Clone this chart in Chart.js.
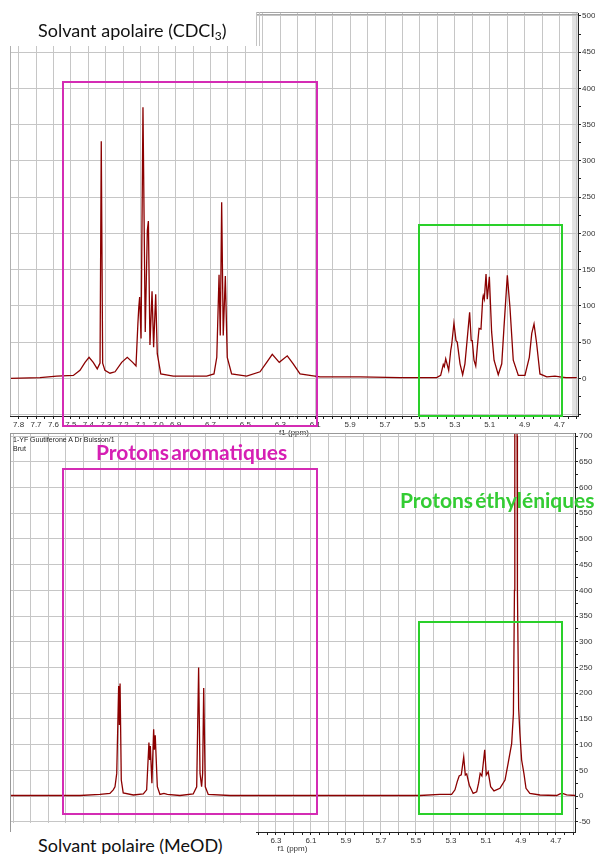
<!DOCTYPE html>
<html>
<head>
<meta charset="utf-8">
<script src="https://cdn.jsdelivr.net/npm/chart.js@4.4.1/dist/chart.umd.min.js"></script>
<style>
  html, body { margin: 0; padding: 0; background: #fff; }
  body { width: 595px; height: 854px; position: relative; overflow: hidden; font-family: Lato, "Open Sans", sans-serif; }
  canvas { position: absolute; left: 0; }
  #spectreHaut { top: 0; }
  #spectreBas { top: 425px; }
  .bloc { position: absolute; box-sizing: border-box; }
  .cache { position: absolute; background: #fff; }
  .cadre { position: absolute; box-sizing: border-box; border: 2px solid; }
  .titre { position: absolute; left: 38px; font-size: 18px; line-height: 20px; color: #111; white-space: nowrap; }
  .titre sub { font-size: 12px; vertical-align: -3px; line-height: 0; }
  .etiquette { position: absolute; font-weight: bold; font-size: 21px; line-height: 24px; white-space: nowrap; word-spacing: -3px; }
  .entete { position: absolute; left: 13px; font-family: "Liberation Sans", sans-serif; font-size: 7px; line-height: 9px; color: #222; white-space: nowrap; }
</style>
</head>
<body>
<div class="bloc" style="left:572px; top:13px; width:6px; height:403px; background:#e3e3e3;"></div>
<canvas id="spectreBas" width="595" height="429"></canvas>
<canvas id="spectreHaut" width="595" height="438"></canvas>

<div class="cache" style="left:0; top:0; width:257px; height:46px;"></div>
<div class="cache" style="left:0; top:823px; width:256px; height:31px;"></div>
<div class="bloc" style="left:257px; top:12px; width:321px; height:3px; border-top:1px solid #a8a8a8; border-bottom:1px solid #a8a8a8;"></div>
<div class="bloc" style="left:256px; top:12px; width:4px; height:34px; border-left:1px solid #c4c4c4; border-right:1px solid #c4c4c4;"></div>
<div class="bloc" style="left:10px; top:46px; width:1px; height:370px; background:#b0b0b0;"></div>
<div class="bloc" style="left:10px; top:433px; width:565px; height:399px; border-top:1px solid #999; border-left:1px solid #999;"></div>

<div class="cadre" style="left:62px; top:81px; width:256px; height:346px; border-color:#d42cb4;"></div>
<div class="cadre" style="left:418px; top:224px; width:145px; height:193px; border-color:#2ad02a;"></div>
<div class="cadre" style="left:62px; top:468px; width:256px; height:347px; border-color:#d42cb4;"></div>
<div class="cadre" style="left:418px; top:621px; width:145px; height:194px; border-color:#2ad02a;"></div>

<div class="titre" style="top:20px;">Solvant apolaire (CDCl<sub>3</sub>)</div>
<div class="titre" style="top:835px;">Solvant polaire (MeOD)</div>
<div class="entete" style="top:435px;">1-YF Guutiferone A Dr Buisson/1</div>
<div class="entete" style="top:444px;">Brut</div>
<div class="etiquette" style="left:96px; top:440px; color:#d61fb4;">Protons aromatiques</div>
<div class="etiquette" style="left:400px; top:488px; color:#33cc33;">Protons éthyléniques</div>

<script>
// CDCl3 spectrum (ppm, intensity)
const topShift = [
    7.849, 7.677, 7.581, 7.486, 7.448, 7.419, 7.396, 7.372, 7.349, 7.333,
    7.326, 7.318, 7.305, 7.276, 7.247, 7.209, 7.177, 7.146, 7.127, 7.116,
    7.111, 7.106, 7.098, 7.087, 7.074, 7.062, 7.056, 7.047, 7.035, 7.026,
    7.014, 7.005, 6.985, 6.913, 6.817, 6.722, 6.680, 6.664, 6.651, 6.644,
    6.636, 6.627, 6.615, 6.604, 6.579, 6.493, 6.416, 6.378, 6.346, 6.306,
    6.260, 6.226, 6.187, 6.073, 5.843, 5.614, 5.404, 5.381, 5.366, 5.360,
    5.352, 5.335, 5.323, 5.318, 5.305, 5.293, 5.286, 5.270, 5.255, 5.242,
    5.232, 5.215, 5.206, 5.200, 5.190, 5.180, 5.171, 5.161, 5.150, 5.140,
    5.137, 5.131, 5.121, 5.114, 5.102, 5.089, 5.075, 5.051, 5.031, 5.018,
    4.999, 4.984, 4.965, 4.936, 4.898, 4.873, 4.859, 4.846, 4.831, 4.812,
    4.773, 4.726, 4.697, 4.663, 4.601
];
const topIntensity = [
    0, 1, 3, 4, 11, 22, 29, 22, 13, 21,
    327, 21, 11, 7, 9, 22, 29, 22, 17, 76,
    98, 112, 55, 374, 64, 204, 217, 46, 120, 43,
    116, 34, 6, 3, 3, 3, 6, 29, 143, 59,
    243, 59, 141, 29, 6, 3, 9, 22, 33, 22,
    31, 20, 6, 2, 2, 1, 1, 4, 19, 16,
    27, 11, 39, 46, 76, 52, 50, 20, 5, 20,
    46, 91, 52, 52, 25, 17, 43, 69, 68, 110,
    114, 109, 144, 109, 140, 64, 25, 5, 20, 71,
    142, 98, 25, 4, 4, 29, 62, 75, 48, 6,
    2, 3, 2, 1, 1
];

// MeOD spectrum
const bottomShift = [
    7.820, 7.420, 7.306, 7.249, 7.230, 7.220, 7.210, 7.199, 7.195, 7.191,
    7.184, 7.173, 7.115, 7.058, 7.039, 7.026, 7.022, 7.018, 7.009, 6.999,
    6.995, 6.990, 6.978, 6.963, 6.940, 6.921, 6.849, 6.773, 6.753, 6.742,
    6.734, 6.725, 6.719, 6.713, 6.704, 6.687, 6.563, 6.049, 5.477, 5.363,
    5.296, 5.277, 5.264, 5.253, 5.241, 5.227, 5.218, 5.210, 5.195, 5.173,
    5.153, 5.142, 5.133, 5.123, 5.107, 5.098, 5.087, 5.073, 5.054, 5.020,
    4.991, 4.973, 4.953, 4.943, 4.937, 4.935, 4.929, 4.922, 4.920, 4.913,
    4.906, 4.896, 4.883, 4.871, 4.849, 4.791, 4.696, 4.677, 4.662, 4.639,
    4.591
];
const bottomIntensity = [
    1, 1, 3, 5, 12, 18, 44, 214, 138, 219,
    31, 6, 2, 4, 12, 104, 70, 97, 25, 130,
    90, 118, 18, 3, 5, 3, 1, 4, 18, 250,
    44, 18, 44, 210, 18, 3, 1, 1, 1, 3,
    3, 12, 28, 39, 41, 76, 41, 43, 21, 5,
    8, 25, 44, 39, 90, 41, 47, 18, 10, 15,
    31, 64, 102, 160, 400, 700, 2400, 700, 400, 170,
    122, 70, 44, 15, 5, 2, 1, 4, 5, 2,
    1
];

// tick labels
const topPpmLabels = ['7.8', '7.7', '7.6', '7.5', '7.4', '7.3', '7.2', '7.1', '7.0', '6.9',
    '6.7', '6.5', '6.3', '6.1', '5.9', '5.7', '5.5', '5.3', '5.1', '4.9', '4.7'];
const bottomPpmLabels = ['6.3', '6.1', '5.9', '5.7', '5.5', '5.3', '5.1', '4.9', '4.7'];
const topIntensityLabels = [0, 50, 100, 150, 200, 250, 300, 350, 400, 450, 500];
const bottomIntensityLabels = [-50, 0, 50, 100, 150, 200, 250, 300, 350, 400, 450, 500, 550, 600, 650, 700];

const petit = { family: 'Liberation Sans', size: 8 };
const gris = '#c6c6c6';

function multiple(v, pas) {
    return Math.abs(v / pas - Math.round(v / pas)) < 1e-6;
}

function axeX(min, max, labels) {
    return {
        type: 'linear',
        position: 'bottom',
        reverse: true,
        min: min,
        max: max,
        afterBuildTicks: function (scale) {
            const t = [];
            for (let i = Math.ceil(min * 20); i <= Math.floor(max * 20); i++) {
                t.push({ value: i / 20 });
            }
            scale.ticks = t;
        },
        afterFit: function (scale) { scale.height = 22; },
        grid: {
            color: (c) => (c.tick && multiple(c.tick.value, 0.1)) ? gris : 'rgba(0,0,0,0)',
            tickColor: '#222',
            tickLength: 3
        },
        border: { color: '#222', width: 1 },
        ticks: {
            autoSkip: false,
            maxRotation: 0,
            padding: 1,
            color: '#333',
            font: petit,
            callback: function (v) {
                const s = v.toFixed(1);
                return (multiple(v, 0.1) && labels.includes(s)) ? s : '';
            }
        },
        title: { display: true, text: 'f1 (ppm)', color: '#333', font: petit, padding: { top: 0, bottom: 0 } }
    };
}

function axeY(min, max, labels, largeur) {
    return {
        type: 'linear',
        position: 'right',
        min: min,
        max: max,
        afterBuildTicks: function (scale) {
            const t = [];
            for (let v = Math.ceil(min / 25) * 25; v <= max; v += 25) {
                t.push({ value: v });
            }
            scale.ticks = t;
        },
        afterFit: function (scale) { scale.width = largeur; },
        grid: {
            color: (c) => (c.tick && multiple(c.tick.value, 50)) ? gris : 'rgba(0,0,0,0)',
            tickColor: '#222',
            tickLength: 3
        },
        border: { color: '#222', width: 1 },
        ticks: {
            autoSkip: false,
            padding: 1,
            color: '#333',
            font: petit,
            callback: (v) => labels.includes(v) ? String(v) : ''
        }
    };
}

function spectre(canvas, shift, intensity, x, y, padding) {
    return new Chart(canvas, {
        type: 'line',
        data: {
            datasets: [{
                data: shift.map((p, i) => ({ x: p, y: intensity[i] })),
                borderColor: '#8b0000',
                borderWidth: 1.3,
                pointRadius: 0,
                tension: 0,
                fill: false
            }]
        },
        options: {
            responsive: false,
            animation: false,
            events: [],
            layout: { padding: padding },
            plugins: {
                legend: { display: false },
                tooltip: { enabled: false }
            },
            scales: { x: x, y: y }
        }
    });
}

document.addEventListener('DOMContentLoaded', function () {
    spectre(document.getElementById('spectreBas'), bottomShift, bottomIntensity,
        axeX(4.591, 7.820, bottomPpmLabels),
        axeY(-70, 706, bottomIntensityLabels, 20),
        { left: 10, top: 8, right: 0, bottom: 0 });

    spectre(document.getElementById('spectreHaut'), topShift, topIntensity,
        axeX(4.594, 7.849, topPpmLabels),
        axeY(-52, 504, topIntensityLabels, 17),
        { left: 10, top: 13, right: 0, bottom: 0 });
});
</script>
</body>
</html>
